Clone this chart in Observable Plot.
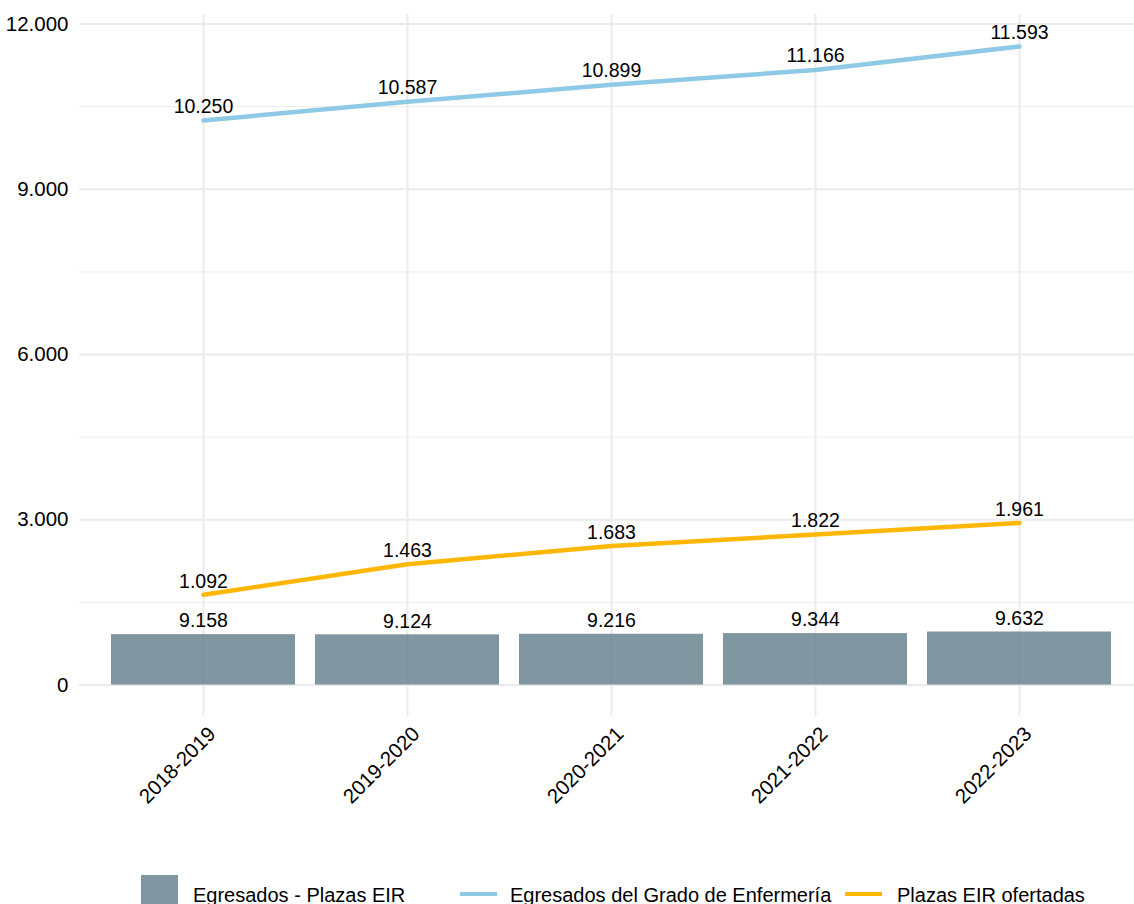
<!DOCTYPE html>
<html>
<head>
<meta charset="utf-8">
<script src="https://cdn.jsdelivr.net/npm/d3@7"></script>
<script src="https://cdn.jsdelivr.net/npm/@observablehq/plot@0.6"></script>
<style>
  html, body { margin: 0; padding: 0; background: white; }
  #chart { width: 1134px; }
  #legend { position: relative; width: 1134px; height: 37px; margin-top: 15px;
    font-family: "Liberation Sans", Arial, sans-serif; font-size: 20px; color: #000; }
  #legend .k { position: absolute; top: 0; width: 37px; height: 37px; }
  #legend .t { position: absolute; top: 2px; line-height: 37px; white-space: nowrap; }
  #legend .ln { position: absolute; left: 0; right: 0; top: 16.5px; height: 4px; }
</style>
</head>
<body>
<div id="chart"></div>
<div id="legend"></div>
<script>
// ---- Data ----
const years = ["2018-2019", "2019-2020", "2020-2021", "2021-2022", "2022-2023"];
const egresados = [10250, 10587, 10899, 11166, 11593];   // Egresados del Grado de Enfermería
const plazas = [1092, 1463, 1683, 1822, 1961];            // Plazas EIR ofertadas
const diferencia = [9158, 9124, 9216, 9344, 9632];        // Egresados - Plazas EIR
const yTicks = [0, 3000, 6000, 9000, 12000];
const yMinorTicks = [1500, 4500, 7500, 10500];
const seriesNames = ["Egresados - Plazas EIR", "Egresados del Grado de Enfermería", "Plazas EIR ofertadas"];

// display scaling used by the original chart (bars /10, plazas x1.5)
const barScale = 1 / 10;
const plazasScale = 1.5;

const colBar = "#607D8B", colBlue = "#8ECAE6", colOrange = "#FFB703";

const fmt = d3.formatLocale({decimal: ",", thousands: ".", grouping: [3], currency: ["", ""]}).format(",d");

const rows = years.map((y, i) => ({year: y, egresados: egresados[i], plazas: plazas[i], diferencia: diferencia[i]}));

const chart = Plot.plot({
  width: 1134,
  height: 860,
  marginTop: 14,
  marginBottom: 143.5,
  marginLeft: 79,
  marginRight: 0,
  style: {fontFamily: "'Liberation Sans', Arial, sans-serif", fontSize: "20.5px", color: "black", background: "white"},
  x: {type: "band", domain: years, range: [79, 1143], paddingInner: 0.1, paddingOuter: 0.15, axis: null},
  y: {domain: [-580, 12173]},
  marks: [
    Plot.gridY(yMinorTicks, {stroke: "#ebebeb", strokeOpacity: 1, strokeWidth: 1}),
    Plot.gridY(yTicks, {stroke: "#ebebeb", strokeOpacity: 1, strokeWidth: 2}),
    Plot.gridX(years, {stroke: "#ebebeb", strokeOpacity: 1, strokeWidth: 2}),
    Plot.barY(rows, {x: "year", y: d => d.diferencia * barScale, fill: colBar, fillOpacity: 0.8}),
    Plot.lineY(rows, {x: "year", y: "egresados", stroke: colBlue, strokeWidth: 4.5}),
    Plot.lineY(rows, {x: "year", y: d => d.plazas * plazasScale, stroke: colOrange, strokeWidth: 4.5}),
    Plot.text(rows, {x: "year", y: "egresados", text: d => fmt(d.egresados), dy: -14, fontSize: 19.5, fill: "black"}),
    Plot.text(rows, {x: "year", y: d => d.plazas * plazasScale, text: d => fmt(d.plazas), dy: -13.5, fontSize: 19.5, fill: "black"}),
    Plot.text(rows, {x: "year", y: d => d.diferencia * barScale, text: d => fmt(d.diferencia), dy: -13.5, fontSize: 19.5, fill: "black"}),
    Plot.axisY(yTicks, {tickSize: 0, tickPadding: 11, tickFormat: fmt, label: null, fill: "black"}),
    Plot.text(years, {x: d => d, frameAnchor: "bottom", rotate: -45, textAnchor: "end", lineAnchor: "top", dx: 3, dy: 8, fill: "black"})
  ]
});
document.getElementById("chart").appendChild(chart);

// ---- Legend ----
const legend = document.getElementById("legend");
const items = [
  {kind: "box", color: colBar, keyLeft: 141, textLeft: 193, label: seriesNames[0]},
  {kind: "line", color: colBlue, keyLeft: 460, textLeft: 510, label: seriesNames[1]},
  {kind: "line", color: colOrange, keyLeft: 845, textLeft: 897, label: seriesNames[2]}
];
for (const it of items) {
  const k = document.createElement("div");
  k.className = "k";
  k.style.left = it.keyLeft + "px";
  if (it.kind === "box") {
    k.style.background = it.color;
    k.style.opacity = 0.8;
  } else {
    const l = document.createElement("div");
    l.className = "ln";
    l.style.background = it.color;
    k.appendChild(l);
  }
  legend.appendChild(k);
  const t = document.createElement("div");
  t.className = "t";
  t.style.left = it.textLeft + "px";
  t.textContent = it.label;
  legend.appendChild(t);
}
</script>
</body>
</html>
